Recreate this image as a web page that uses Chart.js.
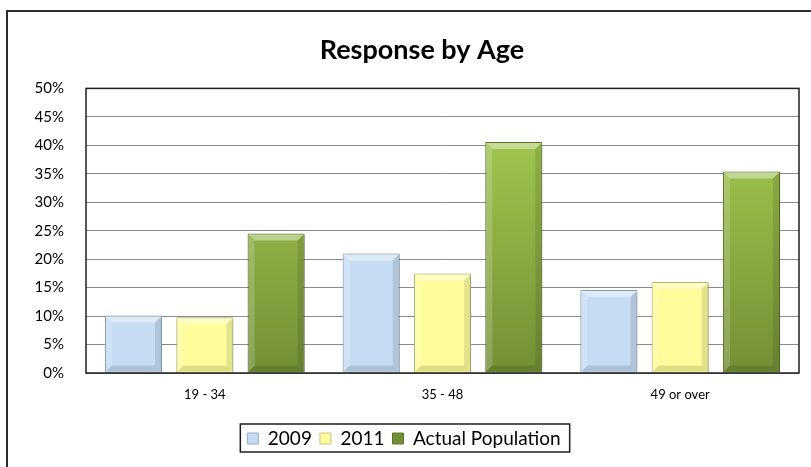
<!DOCTYPE html>
<html>
<head>
<meta charset="utf-8">
<script src="https://cdn.jsdelivr.net/npm/chart.js@4/dist/chart.umd.min.js"></script>
<style>
  html, body { margin: 0; padding: 0; background: #fff; overflow: hidden; }
  #wrap { position: relative; width: 811px; height: 467px; }
  #frame { position: absolute; left: 6px; top: 10px; width: 900px; height: 600px; border: 2px solid #2b2b2b; box-sizing: border-box; }
  #grafico { position: absolute; left: 0; top: 0; }
</style>
</head>
<body>
<div id="wrap">
  <div id="frame"></div>
  <canvas id="grafico" width="811" height="467"></canvas>
</div>
<script>
const faixas = ['19 - 34', '35 - 48', '49 or over'];
const dados2009 = [10.1, 21.0, 14.6];
const dados2011 = [9.8, 17.5, 16.0];
const dadosPopulacao = [24.5, 40.6, 35.4];
const ticksY = [0, 5, 10, 15, 20, 25, 30, 35, 40, 45, 50];

const fonte = 'Lato, "Open Sans", sans-serif';

// gradiente vertical do verde, do topo claro para a base escura
function verdeGradiente(context) {
  const area = context.chart.chartArea;
  if (!area) return '#8fb53f';
  const g = context.chart.ctx.createLinearGradient(0, area.top, 0, area.bottom);
  g.addColorStop(0, '#a9d152');
  g.addColorStop(1, '#728f35');
  return g;
}

// título um pouco à direita do centro do canvas
const deslocaTitulo = {
  id: 'deslocaTitulo',
  afterLayout(chart) {
    if (chart.titleBlock) {
      chart.titleBlock.left += 18;
      chart.titleBlock.right += 18;
    }
  }
};

// sombra leve atrás das barras
const sombraBarras = {
  id: 'sombraBarras',
  beforeDatasetsDraw(chart) {
    const ctx = chart.ctx;
    ctx.save();
    ctx.shadowColor = 'rgba(0,0,0,0.35)';
    ctx.shadowBlur = 4;
    ctx.shadowOffsetX = 1;
    ctx.shadowOffsetY = 1;
  },
  afterDatasetsDraw(chart) {
    chart.ctx.restore();
  }
};

// chanfro nas barras (faces claras em cima e à esquerda, escuras embaixo e à direita)
const chanfro = {
  id: 'chanfro',
  afterDatasetsDraw(chart) {
    const ctx = chart.ctx;
    chart.data.datasets.forEach(function (ds, i) {
      chart.getDatasetMeta(i).data.forEach(function (bar) {
        const l = bar.x - bar.width / 2 + 1;
        const r = bar.x + bar.width / 2 - 1;
        const t = bar.y + 1;
        const b = bar.base - 1;
        const s = 6;
        ctx.save();
        ctx.fillStyle = 'rgba(255,255,255,0.4)';
        ctx.beginPath();
        ctx.moveTo(l, t); ctx.lineTo(r, t); ctx.lineTo(r - s, t + s); ctx.lineTo(l + s, t + s);
        ctx.closePath(); ctx.fill();
        ctx.fillStyle = 'rgba(255,255,255,0.18)';
        ctx.beginPath();
        ctx.moveTo(l, t); ctx.lineTo(l + s, t + s); ctx.lineTo(l + s, b - s); ctx.lineTo(l, b);
        ctx.closePath(); ctx.fill();
        ctx.fillStyle = 'rgba(0,0,0,0.1)';
        ctx.beginPath();
        ctx.moveTo(r, t); ctx.lineTo(r - s, t + s); ctx.lineTo(r - s, b - s); ctx.lineTo(r, b);
        ctx.closePath(); ctx.fill();
        ctx.fillStyle = 'rgba(0,0,0,0.12)';
        ctx.beginPath();
        ctx.moveTo(l, b); ctx.lineTo(l + s, b - s); ctx.lineTo(r - s, b - s); ctx.lineTo(r, b);
        ctx.closePath(); ctx.fill();
        ctx.restore();
      });
    });
  }
};

// moldura da área de plotagem e caixa da legenda
const molduras = {
  id: 'molduras',
  afterDraw(chart) {
    const ctx = chart.ctx;
    const a = chart.chartArea;
    ctx.save();
    ctx.strokeStyle = '#1e1e1e';
    ctx.lineWidth = 1.5;
    ctx.strokeRect(a.left, a.top, a.right - a.left, a.bottom - a.top);
    const caixas = chart.legend.legendHitBoxes;
    if (caixas && caixas.length) {
      const ultimo = caixas[caixas.length - 1];
      const x0 = caixas[0].left - 7;
      const x1 = ultimo.left + ultimo.width + 9;
      const y0 = caixas[0].top - 5;
      const y1 = caixas[0].top + caixas[0].height + 4;
      ctx.lineWidth = 1.5;
      ctx.strokeRect(x0, y0, x1 - x0, y1 - y0);
    }
    ctx.restore();
  }
};

new Chart(document.getElementById('grafico'), {
  type: 'bar',
  data: {
    labels: faixas,
    datasets: [{
      label: '2009',
      data: dados2009,
      backgroundColor: '#c6dcf3',
      borderColor: '#98adc4',
      borderWidth: 1,
    }, {
      label: '2011',
      data: dados2011,
      backgroundColor: '#fdfd9c',
      borderColor: '#c4c484',
      borderWidth: 1,
    }, {
      label: 'Actual Population',
      data: dadosPopulacao,
      backgroundColor: verdeGradiente,
      borderColor: '#61792c',
      borderWidth: 1,
    }]
  },
  options: {
    responsive: false,
    animation: false,
    categoryPercentage: 0.9,
    barPercentage: 0.8,
    layout: { padding: { left: 9, right: 12, top: 0, bottom: 9 } },
    plugins: {
      title: {
        display: true,
        text: 'Response by Age',
        color: '#000',
        font: { family: fonte, size: 27, weight: 'bold' },
        padding: { top: 34, bottom: 22 }
      },
      legend: {
        position: 'bottom',
        labels: {
          color: '#000',
          font: { family: fonte, size: 19 },
          boxWidth: 11,
          boxHeight: 11,
          padding: 8,
        }
      },
      tooltip: { enabled: false }
    },
    scales: {
      x: {
        grid: { display: false, drawTicks: false },
        border: { display: false },
        ticks: { color: '#000', font: { family: fonte, size: 13 }, padding: 14 },
        afterFit(scale) { scale.height = 48; }
      },
      y: {
        min: 0,
        max: 50,
        afterBuildTicks(scale) { scale.ticks = ticksY.map(v => ({ value: v })); },
        grid: { color: '#8a8a8a', lineWidth: 1, drawTicks: false },
        border: { display: false },
        ticks: {
          color: '#000',
          font: { family: fonte, size: 15 },
          padding: 22,
          callback: v => v + '%'
        },
        afterFit(scale) { scale.width = 77; }
      }
    }
  },
  plugins: [deslocaTitulo, sombraBarras, chanfro, molduras]
});
</script>
</body>
</html>
